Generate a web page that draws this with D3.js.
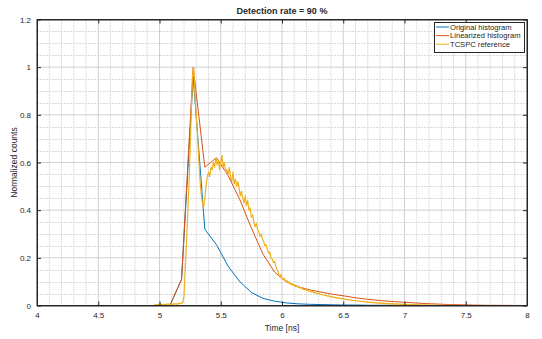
<!DOCTYPE html>
<html><head><meta charset="utf-8">
<script src="https://cdn.jsdelivr.net/npm/d3@7"></script>
<style>body{margin:0;background:#fff}svg{display:block}text{font-family:"Liberation Sans",Arial,sans-serif;fill:#262626}</style>
</head><body><svg id="c" width="542" height="339"></svg>
<script>
// ---- data ----
const histTime = [4.0, 5.0, 5.085, 5.18, 5.275, 5.37, 5.465, 5.56, 5.655, 5.75, 5.845, 5.94, 6.035, 6.13, 6.225, 6.32, 6.415, 6.51, 6.605, 6.70, 6.795, 6.89, 6.985, 7.08, 7.175, 7.27, 7.365, 7.46, 7.555, 7.65, 8.0];
const originalHist = [0, 0, 0, 0.11, 0.96, 0.32, 0.255, 0.165, 0.10, 0.055, 0.03, 0.018, 0.011, 0.007, 0.005, 0.004, 0.003, 0.002, 0.002, 0.001, 0.001, 0.001, 0.001, 0.001, 0, 0, 0, 0, 0, 0, 0];
const linearizedHist = [0, 0, 0, 0.11, 1.0, 0.58, 0.62, 0.545, 0.445, 0.325, 0.215, 0.14, 0.10, 0.079, 0.066, 0.056, 0.047, 0.04, 0.032, 0.026, 0.021, 0.017, 0.014, 0.011, 0.008, 0.006, 0.004, 0.003, 0.002, 0.001, 0];
const tcspcStart = 4.95, tcspcBin = 0.01;
const tcspcRef = [
 0,0.002,0.004,0.003,0.005,0.003,0.006,0.004,0.005,0.003,
 0.006,0.004,0.007,0.005,0.004,0.006,0.005,0.008,0.006,0.007,
 0.006,0.009,0.008,0.01,0.012,0.04,0.15,0.26,0.38,0.5,
 0.65,0.82,0.97,1.0,0.88,0.8,0.72,0.62,0.53,0.47,
 0.43,0.41,0.45,0.5,0.54,0.56,0.54,0.58,0.57,0.6,
 0.58,0.62,0.59,0.61,0.57,0.6,0.63,0.58,0.6,0.56,
 0.57,0.55,0.58,0.54,0.52,0.56,0.51,0.53,0.5,0.52,
 0.49,0.46,0.48,0.45,0.43,0.46,0.42,0.44,0.40,0.41,
 0.37,0.38,0.35,0.33,0.345,0.32,0.31,0.29,0.30,0.28,
 0.27,0.25,0.255,0.235,0.22,0.225,0.2,0.195,0.18,0.185,
 0.165,0.15,0.14,0.12,0.13,0.115,0.11,0.115,0.1,0.105,
 0.095,0.1,0.088,0.092,0.084,0.087,0.079,0.083,0.076,0.078,
 0.072,0.075,0.068,0.066,0.07,0.062,0.064,0.059,0.061,0.056,
 0.058,0.053,0.055,0.051,0.049,0.052,0.046,0.048,0.044,0.045,
 0.042,0.043,0.039,0.041,0.037,0.036,0.038,0.034,0.035,0.032,
 0.033,0.03,0.031,0.029,0.027,0.03,0.026,0.027,0.024,0.025,
 0.023,0.024,0.021,0.022,0.02,0.021,0.019,0.018,0.02,0.017,
 0.018,0.016,0.017,0.015,0.016,0.014,0.013,0.015,0.012,0.013,
 0.012,0.011,0.012,0.01,0.011,0.009,0.011,0.009,0.01,0.008,
 0.009,0.008,0.009,0.007,0.008,0.007,0.008,0.006,0.007,0.006,
 0.007,0.005,0.006,0.005,0.006,0.004,0.005,0.004,0.005,0.004,
 0.004,0.003,0.005,0.003,0.004,0.003,0.004,0.002,0.003,0.002,
 0.003,0.002,0.003,0.002,0.002,0.001,0.003,0.001,0.002,0.001,
 0.002,0.001,0.002,0.001,0.002,0.001,0.001,0.001,0.001,0.001,
 0.002,0.001,0.001,0.001,0.001,0,0.001,0,0.001,0,
 0.001,0,0.001,0,0,0
];
const xTicks = [4, 4.5, 5, 5.5, 6, 6.5, 7, 7.5, 8];
const yTicks = [0, 0.2, 0.4, 0.6, 0.8, 1, 1.2];
const seriesNames = ["Original histogram", "Linearized histogram", "TCSPC reference"];
const seriesColors = ["#0072BD", "#D95319", "#EDB120"];
const titleText = "Detection rate = 90 %";
const xLabel = "Time [ns]", yLabel = "Normalized counts";

// ---- layout ----
const L = 37, R = 527, T = 19.5, B = 305.5;
const x = d3.scaleLinear().domain([4, 8]).range([L, R]);
const y = d3.scaleLinear().domain([0, 1.2]).range([B, T]);
const svg = d3.select("#c");

// grid
const minorX = d3.range(41, 80).map(i => i / 10).filter(v => Math.abs(v * 2 - Math.round(v * 2)) > 1e-6);
const minorY = d3.range(1, 24).map(i => i * 0.05).filter(v => Math.abs(v * 5 - Math.round(v * 5)) > 1e-6);
const g = svg.append("g");
g.selectAll(".mx").data(minorX).join("line").attr("x1", d => x(d)).attr("x2", d => x(d)).attr("y1", T).attr("y2", B)
  .attr("stroke", "#d9d9d9").attr("stroke-width", 1).attr("stroke-dasharray", "2,1");
g.selectAll(".my").data(minorY).join("line").attr("y1", d => Math.round(y(d)) + 0.5).attr("y2", d => Math.round(y(d)) + 0.5).attr("x1", L).attr("x2", R)
  .attr("stroke", "#d9d9d9").attr("stroke-width", 1).attr("stroke-dasharray", "2,1");
g.selectAll(".gx").data(xTicks.slice(1, -1)).join("line").attr("x1", d => x(d)).attr("x2", d => x(d)).attr("y1", T).attr("y2", B)
  .attr("stroke", "#d0d0d0").attr("stroke-width", 1);
g.selectAll(".gy").data(yTicks.slice(1, -1)).join("line").attr("y1", d => y(d)).attr("y2", d => y(d)).attr("x1", L).attr("x2", R)
  .attr("stroke", "#d0d0d0").attr("stroke-width", 1);

// lines
const line = d3.line().x(d => x(d[0])).y(d => y(d[1]));
const ser = [
  histTime.map((t, i) => [t, originalHist[i]]),
  histTime.map((t, i) => [t, linearizedHist[i]]),
  tcspcRef.map((v, i) => [tcspcStart + i * tcspcBin, v])
];
svg.append("clipPath").attr("id", "pc").append("rect").attr("x", L).attr("y", T - 2).attr("width", R - L).attr("height", B - T + 2);
ser.forEach((s, i) => {
  svg.append("path").attr("d", line(s)).attr("fill", "none").attr("stroke", seriesColors[i])
    .attr("stroke-width", i === 2 ? 1.2 : 1).attr("stroke-linejoin", "round").attr("clip-path", "url(#pc)");
});

// axes (box with inward ticks)
const xb = svg.append("g").attr("transform", `translate(0,${B})`).call(d3.axisBottom(x).tickValues(xTicks).tickSizeInner(-4).tickSizeOuter(0).tickPadding(7).tickFormat(d3.format("")));
const xt = svg.append("g").attr("transform", `translate(0,${T})`).call(d3.axisTop(x).tickValues(xTicks).tickSizeInner(-4).tickSizeOuter(0).tickFormat(""));
const yl = svg.append("g").attr("transform", `translate(${L},0)`).call(d3.axisLeft(y).tickValues(yTicks).tickSizeInner(-4).tickSizeOuter(0).tickPadding(6).tickFormat(d3.format("")));
const yr = svg.append("g").attr("transform", `translate(${R},0)`).call(d3.axisRight(y).tickValues(yTicks).tickSizeInner(-4).tickSizeOuter(0).tickFormat(""));
[xb, xt, yl, yr].forEach(a => {
  a.select(".domain").attr("stroke", "#262626").attr("stroke-width", 1);
  a.selectAll(".tick line").attr("stroke", "#262626");
  a.selectAll("text").attr("font-size", 8).attr("fill", "#262626").attr("font-family", "Liberation Sans, Arial, sans-serif");
});
svg.append("rect").attr("x", L).attr("y", T).attr("width", R - L).attr("height", B - T).attr("fill", "none").attr("stroke", "#262626").attr("stroke-width", 1);

// title & labels
svg.append("text").attr("x", (L + R) / 2).attr("y", 14).attr("text-anchor", "middle").attr("font-size", 9).attr("font-weight", "bold").text(titleText);
svg.append("text").attr("x", (L + R) / 2).attr("y", 331).attr("text-anchor", "middle").attr("font-size", 8.5).text(xLabel);
svg.append("text").attr("transform", `translate(17,${(T + B) / 2}) rotate(-90)`).attr("text-anchor", "middle").attr("font-size", 8.5).text(yLabel);

// legend
const lg = svg.append("g");
lg.append("rect").attr("x", 434.5).attr("y", 22.5).attr("width", 90).attr("height", 30).attr("fill", "#fff").attr("stroke", "#262626").attr("stroke-width", 1);
seriesNames.forEach((n, i) => {
  const yy = 27 + i * 8.6;
  lg.append("line").attr("x1", 436).attr("x2", 449).attr("y1", yy).attr("y2", yy).attr("stroke", seriesColors[i]).attr("stroke-width", 1);
  lg.append("text").attr("x", 450).attr("y", yy + 2.8).attr("font-size", 7.6).text(n);
});
</script></body></html>
